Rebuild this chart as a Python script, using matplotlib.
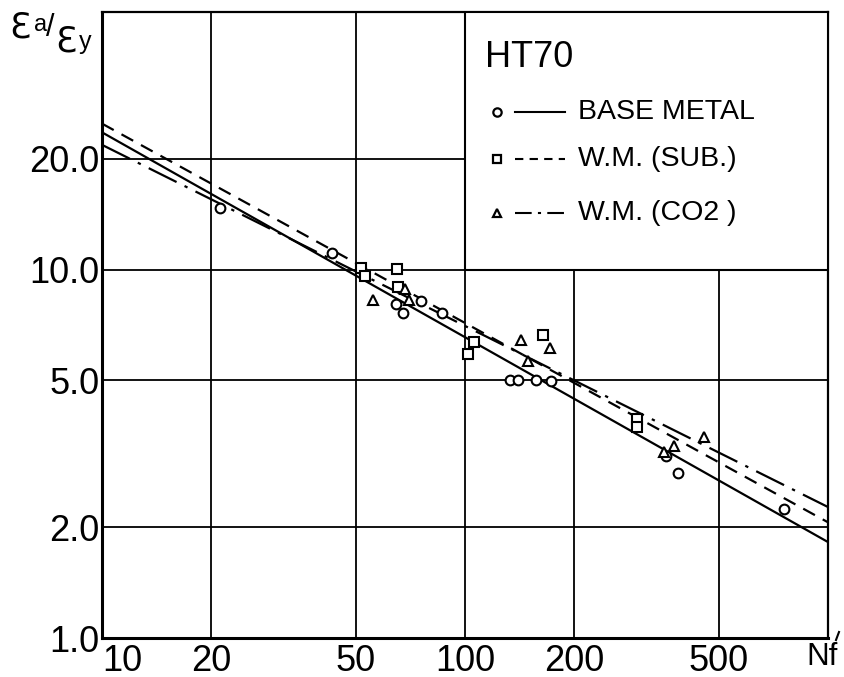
import numpy as np
import matplotlib.pyplot as plt
from matplotlib.patches import Rectangle
from matplotlib.lines import Line2D

plt.rcParams['font.family'] = ['Liberation Sans', 'DejaVu Sans']

# Nf' (cycles to failure) vs strain ratio ea/ey, HT70
base_n = [21.2, 42.9, 64.7, 67.5, 75.5, 86.3, 133, 140, 157, 172.5, 359, 386, 757]
base_e = [14.7, 11.1, 8.08, 7.63, 8.2, 7.6, 5.0, 5.0, 5.0, 4.98, 3.11, 2.81, 2.24]

sub_n = [51.6, 53.0, 64.9, 65.3, 101.7, 105.7, 164.5, 298, 298]
sub_e = [10.1, 9.63, 10.06, 8.97, 5.9, 6.37, 6.63, 3.94, 3.73]

co2_n = [55.7, 68.5, 70.3, 143, 149, 172, 354, 377, 456]
co2_e = [8.27, 8.83, 8.28, 6.42, 5.66, 6.11, 3.19, 3.31, 3.52]

# power law fits  e = C * N^b
fit_base = (84.8, -0.556)
fit_sub = (86.5, -0.541)
fit_co2 = (67.6, -0.4915)

xticks = [10, 20, 50, 100, 200, 500]
yticks = [1.0, 2.0, 5.0, 10.0, 20.0]

W, H = 845, 677

def fx(px):
    return px / W

def fy(py):
    return 1 - py / H

fig = plt.figure(figsize=(8.45, 6.77), dpi=100)
ax = fig.add_axes([fx(102), fy(638), 726/W, 626/H])
ax.set_xscale('log')
ax.set_yscale('log')
ax.set_xlim(10, 1000)
ax.set_ylim(1, 50)

for x in xticks[1:]:
    ax.axvline(x, color='k', lw=1.3, zorder=1)
for y in yticks[1:]:
    ax.axhline(y, color='k', lw=1.3, zorder=1)

n = np.array([10, 1000])
ax.plot(n, fit_base[0]*n**fit_base[1], color='k', lw=1.6, zorder=2)
ax.plot(n, fit_sub[0]*n**fit_sub[1], color='k', lw=1.6, dashes=(6, 4), zorder=2)
ax.plot(n, fit_co2[0]*n**fit_co2[1], color='k', lw=1.6, dashes=(14, 4, 1.5, 4), zorder=2)

mk = dict(ls='none', mfc='white', mec='k', mew=1.5, ms=7, zorder=3)
ax.plot(base_n, base_e, marker='o', **mk)
ax.plot(sub_n, sub_e, marker='s', **mk)
ax.plot(co2_n, co2_e, marker='^', **mk)

# key box in the upper right corner
ax.add_patch(Rectangle((100, 10), 900, 40, facecolor='white', edgecolor='k', lw=1.5, zorder=4))
tr = ax.transAxes
ax.text(0.5275, 0.928, 'HT70', fontsize=26, va='center', transform=tr, zorder=5)
rows = [('BASE METAL', 'o', '-', 0.840), ('W.M. (SUB.)', 's', '--', 0.765), ('W.M. (CO2 )', '^', '-.', 0.679)]
for label, m, ls, y in rows:
    ax.plot([0.544], [y], marker=m, ls='none', mfc='white', mec='k', mew=1.6, ms=6, transform=tr, zorder=5, clip_on=False)
    if ls == '-':
        ax.plot([0.569, 0.638], [y, y], color='k', lw=1.5, transform=tr, zorder=5)
    elif ls == '--':
        ax.plot([0.569, 0.638], [y, y], color='k', lw=1.5, dashes=(4, 3), transform=tr, zorder=5)
    else:
        ax.plot([0.569, 0.638], [y, y], color='k', lw=1.5, dashes=(8, 3, 1.5, 3), transform=tr, zorder=5)
    ax.text(0.655, y, label, fontsize=20.5, va='center', transform=tr, zorder=5)

ax.set_xticks(xticks)
ax.set_xticklabels([str(x) for x in xticks])
ax.set_yticks(yticks)
ax.set_yticklabels(['%.1f' % y for y in yticks])
ax.minorticks_off()
ax.tick_params(length=0, labelsize=26)
ax.tick_params(axis='x', pad=4)
ax.tick_params(axis='y', pad=2)
ax.get_xticklabels()[0].set_ha('left')

for side in ['left', 'bottom']:
    ax.spines[side].set_linewidth(2.2)
for side in ['top', 'right']:
    ax.spines[side].set_linewidth(1.6)

# axis titles: ea/ey upper left, Nf' lower right
eps = dict(family='DejaVu Sans', fontsize=25, va='baseline')
fig.text(fx(9), fy(37), '\u0190', **eps)
fig.text(fx(34), fy(31), 'a', fontsize=17, va='baseline')
fig.text(fx(46), fy(36), '/', fontsize=22, va='baseline')
fig.text(fx(55), fy(51), '\u0190', **eps)
fig.text(fx(79), fy(49), 'y', fontsize=18, va='baseline')

fig.text(fx(806), fy(665), 'Nf', fontsize=22.5, va='baseline')
fig.add_artist(Line2D([fx(836), fx(839)], [fy(640), fy(632)], color='k', lw=1.5))

fig.savefig('out.png', dpi=100)
